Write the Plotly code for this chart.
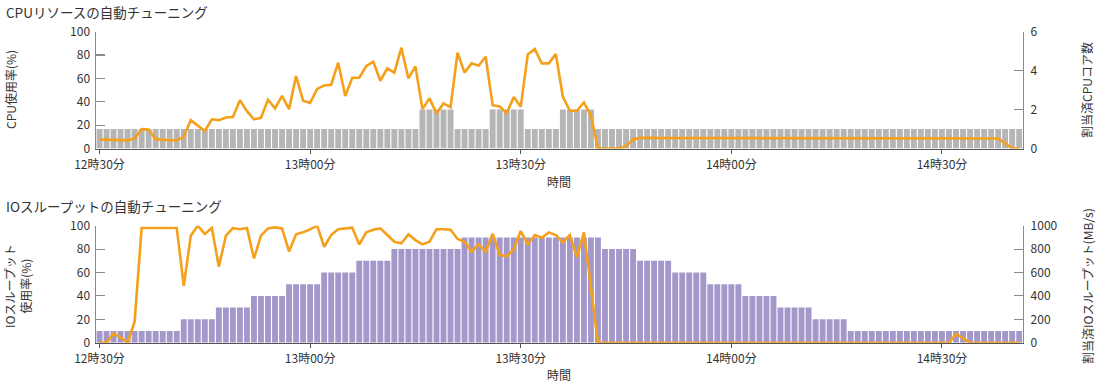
import plotly.graph_objects as go

# ---------------- data ----------------
minutes = list(range(132))  # minutes after 12:30
tick_vals = [0, 30, 60, 90, 120]
tick_text = ["12時30分", "13時00分", "13時30分", "14時00分", "14時30分"]

cpu_cores = ([1] * 46 + [2] * 5 + [1] * 5 + [2] * 5 + [1] * 5 + [2] * 5 + [1] * 61)

cpu_usage = [7.7, 7.7, 7.7, 7.2, 7.0, 8.6, 16.6, 16.3, 8.0, 7.2,
             7.0, 7.0, 10.0, 24.3, 20.0, 15.0, 25.0, 24.3, 26.6, 27.0,
             41.4, 32.0, 25.0, 26.3, 41.7, 34.3, 45.0, 33.7, 62.0, 41.0,
             39.0, 51.0, 54.0, 54.6, 73.5, 45.0, 60.6, 60.6, 70.6, 74.3,
             58.0, 68.6, 64.9, 86.3, 60.0, 70.3, 33.7, 42.9, 30.0, 38.6,
             35.4, 82.0, 65.0, 72.9, 70.9, 78.6, 37.1, 36.0, 30.3, 44.0,
             35.7, 80.6, 85.1, 72.9, 72.9, 80.9, 44.3, 32.3, 32.3, 39.4,
             28.0, 0.0, 0.0, 0.0, 0.0, 2.0, 7.7, 9.1, 9.3, 9.2,
             9.0, 9.0, 9.0, 9.0, 9.0, 9.0, 9.0, 9.0, 9.0, 9.0,
             9.0, 9.0, 9.0, 9.0, 9.0, 9.0, 9.0, 9.0, 9.0, 9.0,
             9.0, 9.0, 9.0, 9.0, 9.0, 9.0, 8.6, 8.6, 8.6, 8.6,
             8.6, 8.6, 8.6, 8.6, 8.6, 8.6, 8.6, 8.6, 8.6, 8.6,
             8.6, 8.6, 8.6, 8.6, 8.6, 8.6, 8.6, 8.6, 8.6, 4.5,
             0.0, 0.0]

io_alloc = ([100] * 12 + [200] * 5 + [300] * 5 + [400] * 5 + [500] * 5 +
            [600] * 5 + [700] * 5 + [800] * 10 + [900] * 20 + [800] * 5 +
            [700] * 5 + [600] * 5 + [500] * 5 + [400] * 5 + [300] * 5 +
            [200] * 5 + [100] * 25)

io_usage = [0.0, 0.0, 8.0, 4.5, 0.0, 18.0, 98.0, 98.0, 98.0, 98.0,
            98.0, 98.0, 48.7, 91.5, 100.0, 93.0, 98.0, 65.0, 91.5, 98.0,
            97.0, 98.0, 72.0, 91.5, 97.7, 98.6, 97.7, 78.0, 92.6, 94.3,
            96.9, 100.0, 82.0, 92.0, 97.0, 97.7, 98.3, 84.0, 94.3, 96.6,
            97.7, 92.0, 86.3, 85.0, 92.6, 87.7, 84.0, 86.3, 97.0, 97.0,
            96.6, 88.6, 86.3, 77.8, 84.0, 77.8, 93.2, 75.0, 73.8, 79.8,
            95.4, 84.0, 92.0, 89.7, 94.3, 92.0, 85.8, 92.0, 73.2, 94.3,
            45.0] + [0.0] * 51 + [7.5, 3.5] + [0.0] * 8

# ---------------- style ----------------
FONT = "Noto Sans CJK JP"
TXT = "#333333"
ORANGE = "#f5a01a"
GRAY_BAR = "#b5b5b5"
PURPLE_BAR = "#a498ca"
AX_GRAY = "#8a8a8a"
X_LINE = "#555555"

W, H = 1100, 383
x_dom = [96 / W, 1022.7 / W]
top_dom = [1 - 148.5 / H, 1 - 31.7 / H]
bot_dom = [1 - 342.7 / H, 1 - 225.7 / H]

fig = go.Figure()

fig.add_trace(go.Bar(x=minutes, y=cpu_cores, width=0.84, marker_color=GRAY_BAR,
                     marker_line_width=0, xaxis="x", yaxis="y", showlegend=False))
fig.add_trace(go.Scatter(x=minutes, y=cpu_usage, mode="lines",
                         line=dict(color=ORANGE, width=2.6),
                         xaxis="x", yaxis="y2", showlegend=False))
fig.add_trace(go.Bar(x=minutes, y=io_alloc, width=0.84, marker_color=PURPLE_BAR,
                     marker_line_width=0, xaxis="x2", yaxis="y3", showlegend=False))
fig.add_trace(go.Scatter(x=minutes, y=io_usage, mode="lines",
                         line=dict(color=ORANGE, width=2.6),
                         xaxis="x2", yaxis="y4", showlegend=False))

tickfont = dict(family=FONT, size=12, color=TXT)

def xax(anchor):
    return dict(domain=x_dom, anchor=anchor, range=[-0.5, 131.5],
                tickvals=tick_vals, ticktext=tick_text, ticks="outside",
                ticklen=4, tickwidth=1, tickcolor=X_LINE, showline=True,
                linecolor=X_LINE, linewidth=1.6, showgrid=False, zeroline=False,
                tickfont=tickfont, fixedrange=True, automargin=False)

def yax_right(dom, anchor, rng, vals):
    return dict(domain=dom, anchor=anchor, side="right", range=rng,
                tickvals=vals, ticks="inside", ticklen=9, tickwidth=1.2,
                tickcolor=AX_GRAY, showline=True, linecolor=AX_GRAY,
                linewidth=1.5, showgrid=False, zeroline=False,
                tickfont=tickfont, ticklabelstandoff=4, automargin=False)

def yax_left(overlay, anchor):
    return dict(overlaying=overlay, anchor=anchor, side="left", range=[0, 100],
                tickvals=[0, 20, 40, 60, 80, 100], ticks="inside", ticklen=9,
                tickwidth=1.2, tickcolor=AX_GRAY, showline=True,
                linecolor=AX_GRAY, linewidth=1.5, showgrid=False,
                zeroline=False, tickfont=tickfont, ticklabelstandoff=2,
                automargin=False)

fig.update_layout(
    template="none",
    width=W, height=H,
    margin=dict(l=0, r=0, t=0, b=0, autoexpand=False),
    paper_bgcolor="white", plot_bgcolor="white",
    font=dict(family=FONT, color=TXT),
    bargap=0.15,
    xaxis=xax("y"),
    yaxis=yax_right(top_dom, "x", [0, 6], [0, 2, 4, 6]),
    yaxis2=yax_left("y", "x"),
    xaxis2=xax("y3"),
    yaxis3=yax_right(bot_dom, "x2", [0, 1000], [0, 200, 400, 600, 800, 1000]),
    yaxis4=yax_left("y3", "x2"),
)

def ann(text, x, y, size=12, angle=0, xanchor="center"):
    fig.add_annotation(text=text, x=x / W, y=1 - y / H, xref="paper", yref="paper",
                       showarrow=False, textangle=angle, xanchor=xanchor,
                       yanchor="middle", font=dict(family=FONT, size=size, color=TXT))

ann("CPUリソースの自動チューニング", 4, 12.5, size=13.5, xanchor="left")
ann("IOスループットの自動チューニング", 4, 206, size=13.5, xanchor="left")
ann("CPU使用率(%)", 10, 90, angle=-90)
ann("割当済CPUコア数", 1086, 90, angle=-90)
ann("IOスループット<br>使用率(%)", 17, 286, angle=-90)
ann("割当済IOスループット(MB/s)", 1087, 286, angle=-90)
ann("時間", 559, 181.5)
ann("時間", 559, 374.5)

fig.write_html(
    "out.html",
    config={"displayModeBar": False, "staticPlot": True},
    post_script="document.body.style.margin='0px';document.body.style.overflow='hidden';",
)
